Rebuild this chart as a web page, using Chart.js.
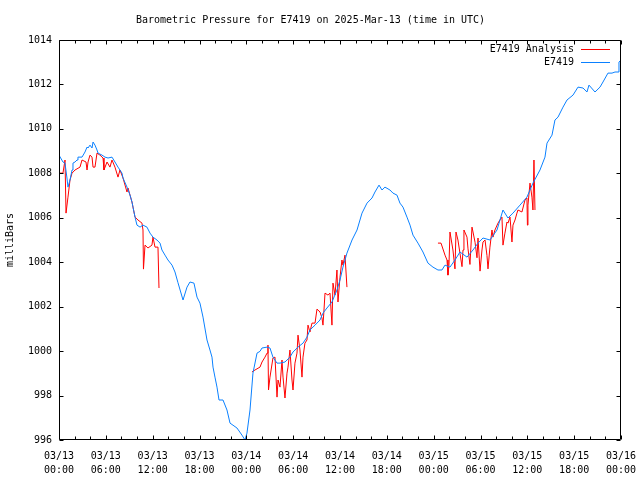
<!DOCTYPE html>
<html>
<head>
  <title>Barometric Pressure for E7419</title>
  <script src="https://cdn.jsdelivr.net/npm/chart.js@4.4.1/dist/chart.umd.min.js"></script>
  <style>
    html, body { margin: 0; padding: 0; background: #fff; }
  </style>
</head>
<body>
  <canvas id="chart" width="640" height="480"></canvas>
  <script>
    // hours since 03/13 00:00 UTC, pressure in millibars
    const stationHours = [
      0, 0.51, 0.77, 1.02, 1.15, 1.41, 1.67, 1.79, 2.05, 2.31,
      2.43, 2.95, 3.33, 3.59, 3.72, 3.97, 4.23, 4.36, 4.61, 4.87,
      5.0, 5.51, 5.89, 6.28, 6.79, 7.17, 7.56, 8.07, 8.2, 8.71,
      9.1, 9.35, 9.48, 9.74, 9.99, 10.38, 10.76, 11.27, 11.66, 12.04,
      12.55, 12.94, 13.19, 13.58, 13.96, 14.48, 14.86, 15.24, 15.89, 16.4,
      16.78, 17.29, 17.68, 18.06, 18.45, 18.96, 19.34, 19.6, 19.73, 19.98,
      20.24, 20.5, 21.01, 21.52, 21.91, 22.8, 23.44, 23.83, 24.08, 24.47,
      24.85, 25.37, 25.75, 26.01, 26.65, 27.03, 27.41, 27.93, 28.31, 28.95,
      29.59, 29.98, 30.62, 31.26, 31.77, 32.15, 32.8, 33.44, 33.82, 34.33,
      34.97, 35.61, 36.0, 36.38, 36.89, 37.54, 38.18, 38.82, 39.46, 40.1,
      40.48, 41.0, 41.38, 41.76, 42.4, 42.79, 43.3, 43.68, 44.07, 44.58,
      44.97, 45.35, 45.99, 46.63, 47.27, 47.91, 48.55, 49.06, 49.45, 50.09,
      50.73, 51.37, 52.27, 53.04, 53.68, 54.32, 55.21, 56.11, 56.88, 57.52,
      58.16, 59.06, 59.95, 60.72, 61.62, 62.26, 62.52, 63.16, 63.54, 63.93,
      64.57, 65.08, 65.85, 66.49, 67.13, 67.64, 67.9, 68.67, 69.31, 69.69,
      70.33, 70.85, 71.23, 71.62, 71.74, 72.0
    ];
    const stationPressure = [
      1008.82, 1008.51, 1008.46, 1007.79, 1007.38, 1007.70, 1008.15, 1008.46, 1008.51, 1008.60,
      1008.73, 1008.73, 1008.96, 1009.18, 1009.14, 1009.27, 1009.14, 1009.41, 1009.27, 1009.05,
      1008.91, 1008.82, 1008.73, 1008.69, 1008.73, 1008.51, 1008.28, 1008.01, 1007.79, 1007.38,
      1007.02, 1006.71, 1006.48, 1006.03, 1005.67, 1005.58, 1005.67, 1005.58, 1005.31, 1005.13,
      1005.00, 1004.86, 1004.55, 1004.32, 1004.10, 1003.87, 1003.56, 1003.08, 1002.30, 1002.88,
      1003.11, 1003.06, 1002.43, 1002.16, 1001.53, 1000.50, 1000.05, 999.73, 999.28, 998.83,
      998.38, 997.80, 997.80, 997.35, 996.76, 996.54, 996.22, 996.00, 996.31, 997.35,
      999.01, 999.91, 999.99, 1000.14, 1000.18, 1000.14, 999.73, 999.46, 999.46, 999.51,
      999.73, 999.96, 1000.18, 1000.36, 1000.63, 1000.95, 1001.17, 1001.40, 1001.71, 1001.94,
      1002.21, 1002.75, 1003.20, 1003.78, 1004.41, 1005.00, 1005.45, 1006.21, 1006.66, 1006.89,
      1007.16, 1007.47, 1007.25, 1007.38, 1007.25, 1007.11, 1007.02, 1006.66, 1006.48, 1006.03,
      1005.67, 1005.22, 1004.86, 1004.46, 1003.96, 1003.78, 1003.65, 1003.65, 1003.87, 1003.78,
      1004.10, 1004.46, 1004.23, 1004.55, 1004.86, 1005.09, 1005.00, 1005.45, 1006.35, 1005.99,
      1006.21, 1006.57, 1006.93, 1007.56, 1008.15, 1008.73, 1009.36, 1009.72, 1010.40, 1010.53,
      1010.98, 1011.30, 1011.52, 1011.88, 1011.84, 1011.66, 1011.97, 1011.66, 1011.88, 1012.11,
      1012.51, 1012.51, 1012.56, 1012.56, 1013.01, 1013.10
    ];

    // analysis series, null marks the gaps between the three runs
    const analysisHours = [
      0.0, 0.51, 0.77, 0.90, 1.15, 1.41, 1.67, 2.05, 2.69, 2.95,
      3.46, 3.59, 3.72, 3.97, 4.23, 4.36, 4.61, 4.87, 5.25, 5.64,
      5.76, 6.15, 6.53, 6.79, 7.17, 7.56, 7.81, 8.20, 8.71, 8.84,
      9.35, 9.48, 9.74, 10.12, 10.63, 10.76, 10.82, 11.02, 11.40, 11.91,
      12.04, 12.30, 12.68, 12.81,
      18,
      24.72, 25.11, 25.75, 26.01, 26.39, 26.65, 26.77, 26.84, 27.03, 27.41,
      27.67, 27.93, 28.06, 28.31, 28.57, 28.70, 28.95, 29.21, 29.34, 29.59,
      29.85, 29.98, 30.23, 30.49, 30.62, 30.87, 31.13, 31.26, 31.51, 31.77,
      31.90, 32.15, 32.41, 32.80, 33.05, 33.44, 33.69, 33.82, 33.95, 34.08,
      34.46, 34.72, 34.97, 35.10, 35.36, 35.61, 35.74, 36.00, 36.25, 36.38,
      36.64, 36.89,
      42,
      48.55, 48.94, 49.45, 49.71, 49.83, 49.96, 50.09, 50.47, 50.73, 50.86,
      51.11, 51.37, 51.63, 51.76, 51.88, 52.27, 52.40, 52.65, 52.91, 53.04,
      53.30, 53.55, 53.68, 53.94, 54.19, 54.32, 54.58, 54.83, 54.96, 55.21,
      55.47, 55.60, 55.85, 56.24, 56.49, 56.75, 56.88, 57.13, 57.39, 57.52,
      57.78, 58.03, 58.16, 58.42, 58.67, 58.80, 59.31, 59.70, 59.95, 60.01,
      60.08, 60.34, 60.59, 60.72, 60.85, 60.98
    ];
    const analysisPressure = [
      1008.01, 1008.01, 1008.60, 1006.21, 1006.93, 1007.70, 1008.01, 1008.15, 1008.28, 1008.60,
      1008.51, 1008.15, 1008.51, 1008.82, 1008.73, 1008.28, 1008.28, 1008.91, 1008.82, 1008.69,
      1008.15, 1008.51, 1008.28, 1008.60, 1008.28, 1007.83, 1008.15, 1007.79, 1007.16, 1007.34,
      1006.71, 1006.48, 1006.03, 1005.90, 1005.76, 1005.45, 1003.69, 1004.77, 1004.64, 1004.77,
      1005.13, 1004.68, 1004.68, 1002.84,
      null,
      999.06, 999.15, 999.28, 999.51, 999.73, 999.91, 1000.27, 998.25, 998.83, 999.69,
      999.73, 997.93, 998.70, 998.38, 999.60, 998.83, 997.89, 999.01, 999.28, 1000.05,
      998.70, 998.25, 999.46, 999.91, 1000.72, 1000.05, 998.83, 999.73, 1000.36, 1000.50,
      1001.17, 1000.86, 1001.26, 1001.26, 1001.89, 1001.76, 1001.49, 1001.17, 1001.85, 1002.61,
      1002.52, 1002.61, 1001.17, 1003.06, 1002.52, 1003.65, 1002.21, 1003.33, 1004.10, 1003.87,
      1004.32, 1002.88,
      null,
      1004.86, 1004.86, 1004.32, 1004.10, 1003.42, 1003.87, 1005.36, 1004.55, 1003.70, 1005.36,
      1005.00, 1004.40, 1003.80, 1004.55, 1005.45, 1005.13, 1004.60, 1003.90, 1005.58, 1005.36,
      1004.90, 1004.20, 1005.09, 1003.60, 1004.55, 1004.91, 1005.00, 1004.30, 1003.70, 1004.68,
      1005.45, 1005.13, 1005.45, 1005.76, 1005.90, 1006.03, 1004.77, 1005.31, 1005.81, 1005.76,
      1006.03, 1004.91, 1005.67, 1005.90, 1006.21, 1006.35, 1006.26, 1006.80, 1006.89, 1005.67,
      1006.57, 1007.56, 1006.93, 1006.35, 1008.60, 1006.35
    ];

    const tickDates = ['03/13', '03/13', '03/13', '03/13', '03/14', '03/14', '03/14',
                       '03/14', '03/15', '03/15', '03/15', '03/15', '03/16'];
    const tickTimes = ['00:00', '06:00', '12:00', '18:00', '00:00', '06:00', '12:00',
                       '18:00', '00:00', '06:00', '12:00', '18:00', '00:00'];

    const MONO = '"DejaVu Sans Mono", "Liberation Mono", monospace';
    Chart.defaults.font.family = MONO;
    Chart.defaults.color = '#000';

    function toPoints(xs, ys) {
      return xs.map((x, i) => ({ x: x, y: ys[i] }));
    }

    // gnuplot style box with inward ticks on all four sides, plus the key
    const framePlugin = {
      id: 'frame',
      afterDatasetsDraw(chart) {
        const ctx = chart.ctx;
        const a = chart.chartArea;
        const xs = chart.scales.x;
        const ys = chart.scales.y;
        const L = Math.round(a.left) + 0.5, R = Math.round(a.right) - 0.5;
        const T = Math.round(a.top) + 0.5, B = Math.round(a.bottom) - 0.5;
        ctx.save();
        ctx.strokeStyle = '#000';
        ctx.lineWidth = 1;
        ctx.beginPath();
        ctx.rect(L, T, R - L, B - T);
        for (let h = 0; h <= 72; h += 2) {
          const px = Math.round(xs.getPixelForValue(h)) + 0.5;
          const len = h % 6 === 0 ? 4 : 3;
          ctx.moveTo(px, B); ctx.lineTo(px, B - len);
          ctx.moveTo(px, T); ctx.lineTo(px, T + len);
        }
        for (let p = 996; p <= 1014; p += 2) {
          const py = Math.round(ys.getPixelForValue(p)) + 0.5;
          ctx.moveTo(L, py); ctx.lineTo(L + 4, py);
          ctx.moveTo(R, py); ctx.lineTo(R - 4, py);
        }
        ctx.stroke();

        // key, top right
        ctx.font = '10px ' + MONO;
        ctx.textAlign = 'right';
        ctx.textBaseline = 'middle';
        chart.data.datasets.forEach((ds, i) => {
          const y = 49 + i * 13;
          ctx.fillStyle = '#000';
          ctx.fillText(ds.label, 574, y);
          ctx.strokeStyle = ds.borderColor;
          ctx.beginPath();
          ctx.moveTo(581, y + 0.5);
          ctx.lineTo(610, y + 0.5);
          ctx.stroke();
        });
        ctx.restore();
      }
    };

    new Chart(document.getElementById('chart'), {
      type: 'line',
      data: {
        datasets: [
          {
            label: 'E7419 Analysis',
            data: toPoints(analysisHours, analysisPressure),
            borderColor: '#ff0000',
            borderWidth: 1,
            pointRadius: 0,
            tension: 0,
            spanGaps: false,
            order: 1
          },
          {
            label: 'E7419',
            data: toPoints(stationHours, stationPressure),
            borderColor: '#0a80ff',
            borderWidth: 1,
            pointRadius: 0,
            tension: 0,
            order: 0
          }
        ]
      },
      options: {
        responsive: false,
        animation: false,
        events: [],
        layout: { padding: { left: 0, right: 19, top: 0, bottom: 0 }, autoPadding: false },
        plugins: {
          legend: { display: false },
          tooltip: { enabled: false },
          title: {
            display: true,
            text: 'Barometric Pressure for E7419 on 2025-Mar-13 (time in UTC)',
            color: '#000',
            font: { size: 10, weight: 'normal', lineHeight: 1.2 },
            padding: { top: 14, bottom: 14 }
          }
        },
        scales: {
          x: {
            type: 'linear',
            min: 0,
            max: 72,
            grid: { display: false, drawTicks: false, tickLength: 0 },
            border: { display: false },
            ticks: {
              stepSize: 6,
              autoSkip: false,
              maxRotation: 0,
              padding: 9,
              color: '#000',
              font: { size: 10, lineHeight: 1.4 },
              callback: (v) => [tickDates[v / 6], tickTimes[v / 6]]
            },
            afterFit: (s) => {
              s.height = 40;
              s.paddingLeft = 0;
              s.paddingRight = 0;
            }
          },
          y: {
            min: 996,
            max: 1014,
            grid: { display: false, drawTicks: false, tickLength: 0 },
            border: { display: false },
            title: {
              display: true,
              text: 'milliBars',
              color: '#000',
              font: { size: 10, lineHeight: 1.2 },
              padding: { top: 4, bottom: 0 }
            },
            ticks: {
              stepSize: 2,
              padding: 7,
              color: '#000',
              font: { size: 10 },
              callback: (v) => String(v)
            },
            afterFit: (s) => { s.width = 59; }
          }
        }
      },
      plugins: [framePlugin]
    });
  </script>
</body>
</html>
